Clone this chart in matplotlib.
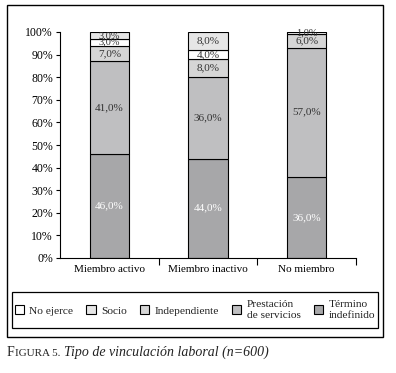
import matplotlib.pyplot as plt
from matplotlib.patches import Patch, Rectangle
from matplotlib.ticker import MultipleLocator, FuncFormatter

categories = ["Miembro activo", "Miembro inactivo", "No miembro"]
# stack order, bottom to top
series_names = ["Término\nindefinido", "Prestación\nde servicios", "Independiente", "No ejerce", "Socio"]
termino = [46, 44, 36]
prestacion = [41, 36, 57]
independiente = [7, 8, 6]
no_ejerce = [3, 4, 1]
socio = [3, 8, 0]
series = [termino, prestacion, independiente, no_ejerce, socio]
colors = ["#a7a7a9", "#bfbfc1", "#d6d6d6", "#ffffff", "#e6e6e6"]
text_colors = ["white", "#333333", "#333333", "#333333", "#333333"]
legend_order = [3, 4, 2, 1, 0]

plt.rcParams["font.family"] = ["Liberation Serif", "DejaVu Serif"]
plt.rcParams["text.color"] = "#222222"

W, H = 396, 373
fig = plt.figure(figsize=(W / 100, H / 100), dpi=100)
ax = fig.add_axes([60 / W, 1 - 258 / H, 296 / W, 226 / H])

x = range(len(categories))
bottoms = [0, 0, 0]
for values, color, tcolor in zip(series, colors, text_colors):
    ax.bar(x, values, bottom=bottoms, width=0.4, color=color, edgecolor="black", linewidth=0.8, zorder=2)
    for i, v in enumerate(values):
        if v > 0:
            size = 8 if v >= 4 else 7.5
            ax.text(i, bottoms[i] + v / 2, f"{v},0%", ha="center", va="center", fontsize=size, color=tcolor, zorder=3)
    bottoms = [b + v for b, v in zip(bottoms, values)]

ax.set_xlim(-0.5, 2.5)
ax.set_ylim(0, 100)
ax.yaxis.set_major_locator(MultipleLocator(10))
ax.yaxis.set_major_formatter(FuncFormatter(lambda v, _: f"{int(v)}%"))
ax.set_xticks([0.5, 1.5, 2.5])
ax.set_xticklabels([])
ax.set_xticks([0, 1, 2], minor=True)
ax.set_xticklabels(categories, minor=True)
ax.tick_params(axis="x", which="major", direction="out", length=5, width=0.8)
ax.tick_params(axis="x", which="minor", length=0, pad=5, labelsize=8)
ax.tick_params(axis="y", direction="out", length=3, width=0.8, labelsize=8.5, pad=2)
for side in ["top", "right"]:
    ax.spines[side].set_visible(False)
for side in ["left", "bottom"]:
    ax.spines[side].set_linewidth(0.8)

# legend, with its own box
fig.add_artist(Rectangle((12 / W, 1 - 328 / H), 366 / W, 36 / H, transform=fig.transFigure,
                         fill=False, edgecolor="black", linewidth=0.9))
handles = [Patch(facecolor=colors[i], edgecolor="black", linewidth=0.8) for i in legend_order]
labels = [series_names[i] for i in legend_order]
fig.legend(handles, labels, loc="center", bbox_to_anchor=(195 / W, 1 - 310 / H),
           ncol=5, frameon=False, fontsize=8.2, labelspacing=0.1,
           handlelength=0.8, handleheight=0.8, handletextpad=0.5, columnspacing=1.15,
           borderpad=0.2)

fig.add_artist(Rectangle((7 / W, 1 - 337 / H), 376 / W, 332 / H, transform=fig.transFigure,
                         fill=False, edgecolor="black", linewidth=1.0))

# caption with small caps "FIGURA"
renderer = fig.canvas.get_renderer()
cy = 1 - 356 / H
t1 = fig.text(7 / W, cy, "F", fontsize=10, va="baseline")
ex = t1.get_window_extent(renderer)
t2 = fig.text(ex.x1 / fig.bbox.width, cy, "IGURA 5.", fontsize=8, va="baseline")
ex = t2.get_window_extent(renderer)
fig.text(ex.x1 / fig.bbox.width + 0.01, cy, "Tipo de vinculación laboral (n=600)",
         fontsize=10, style="italic", va="baseline")

fig.savefig("out.png", dpi=100)
